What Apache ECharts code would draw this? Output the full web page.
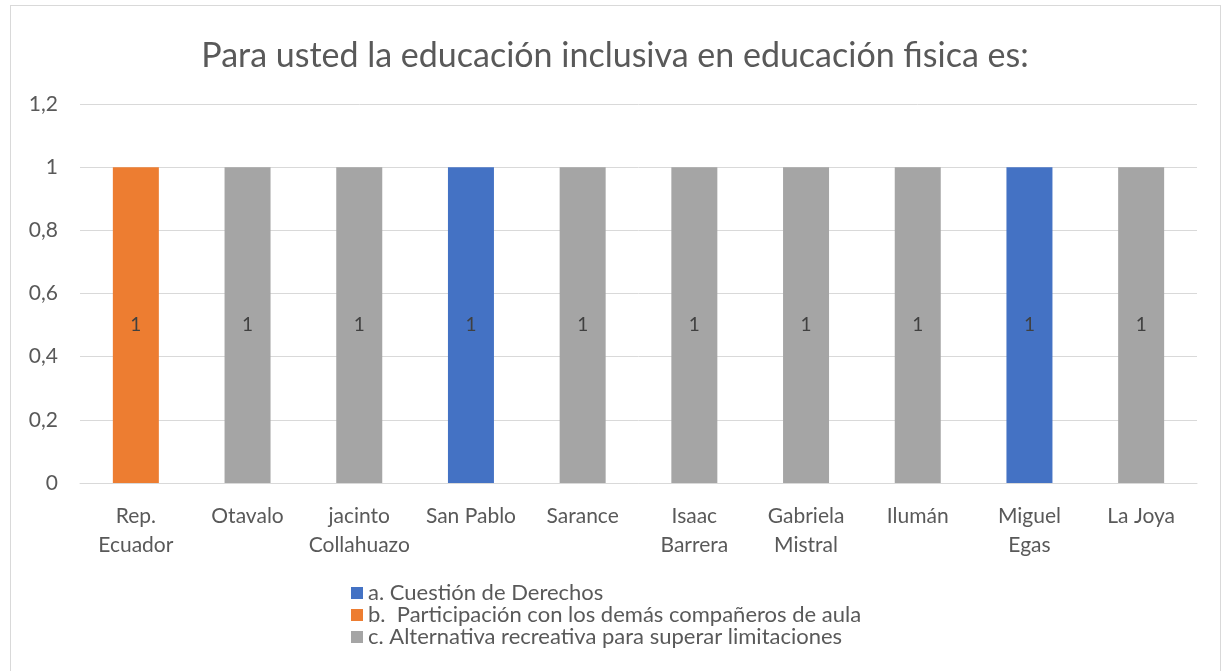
<!DOCTYPE html>
<html>
<head>
<meta charset="utf-8">
<script src="https://cdn.jsdelivr.net/npm/echarts@6/dist/echarts.min.js"></script>
<style>
html,body{margin:0;padding:0;background:#fff;}
#frame{position:absolute;left:10px;top:5px;width:1211px;height:670px;border:1px solid #d9d9d9;box-sizing:border-box;}
#chart{position:absolute;left:0;top:0;width:1230px;height:671px;}
</style>
</head>
<body>
<div id="frame"></div>
<div id="chart"></div>
<script>
const categories = ["Rep.\nEcuador","Otavalo","jacinto\nCollahuazo","San Pablo","Sarance","Isaac\nBarrera","Gabriela\nMistral","Ilumán","Miguel\nEgas","La Joya"];
const seriesNames = ["a. Cuestión de Derechos","b.  Participación con los demás compañeros de aula","c. Alternativa recreativa para superar limitaciones"];
const valuesA = [0,0,0,1,0,0,0,0,1,0];
const valuesB = [1,0,0,0,0,0,0,0,0,0];
const valuesC = [0,1,1,0,1,1,1,1,0,1];
const yTicks = [0,0.2,0.4,0.6,0.8,1,1.2];
const colors = ["#4472C4","#ED7D31","#A5A5A5"];
const FONT = "Lato";

const chart = echarts.init(document.getElementById('chart'));
function mk(name, data, color){
  return {
    name: name, type: 'bar', stack: 'total', data: data, barWidth: 46,
    itemStyle: {color: color},
    label: {show: true, position: 'inside', fontFamily: FONT, fontSize: 19, color: '#404040',
      formatter: p => p.value === 0 ? '' : String(p.value).replace('.', ',')}
  };
}
chart.setOption({
  animation: false,
  title: {text: 'Para usted la educación inclusiva en educación fisica es:', left: 'center', top: 34,
    textStyle: {fontFamily: FONT, fontSize: 34, fontWeight: 'normal', color: '#595959'}},
  grid: {left: 80, right: 33, top: 104, bottom: 188, containLabel: false},
  legend: {orient: 'vertical', left: 346, top: 577, itemWidth: 12, itemHeight: 12, itemGap: 0,
    icon: 'rect', textStyle: {fontFamily: FONT, fontSize: 22, color: '#595959', lineHeight: 22},
    data: seriesNames},
  xAxis: {type: 'category', data: categories,
    axisLine: {lineStyle: {color: '#d9d9d9'}}, axisTick: {show: false},
    axisLabel: {fontFamily: FONT, fontSize: 21, color: '#595959', margin: 19, lineHeight: 29, interval: 0}},
  yAxis: {type: 'value', min: 0, max: 1.2, interval: 0.2,
    axisLine: {show: false}, axisTick: {show: false},
    splitLine: {lineStyle: {color: '#d9d9d9', width: 1}},
    axisLabel: {fontFamily: FONT, fontSize: 21, color: '#595959', margin: 22,
      formatter: v => { const t = yTicks.find(x => Math.abs(x - v) < 1e-9); return String(Math.round((t ?? v)*10)/10).replace('.', ','); }}},
  series: [mk(seriesNames[0], valuesA, colors[0]), mk(seriesNames[1], valuesB, colors[1]), mk(seriesNames[2], valuesC, colors[2])]
});
</script>
</body>
</html>
